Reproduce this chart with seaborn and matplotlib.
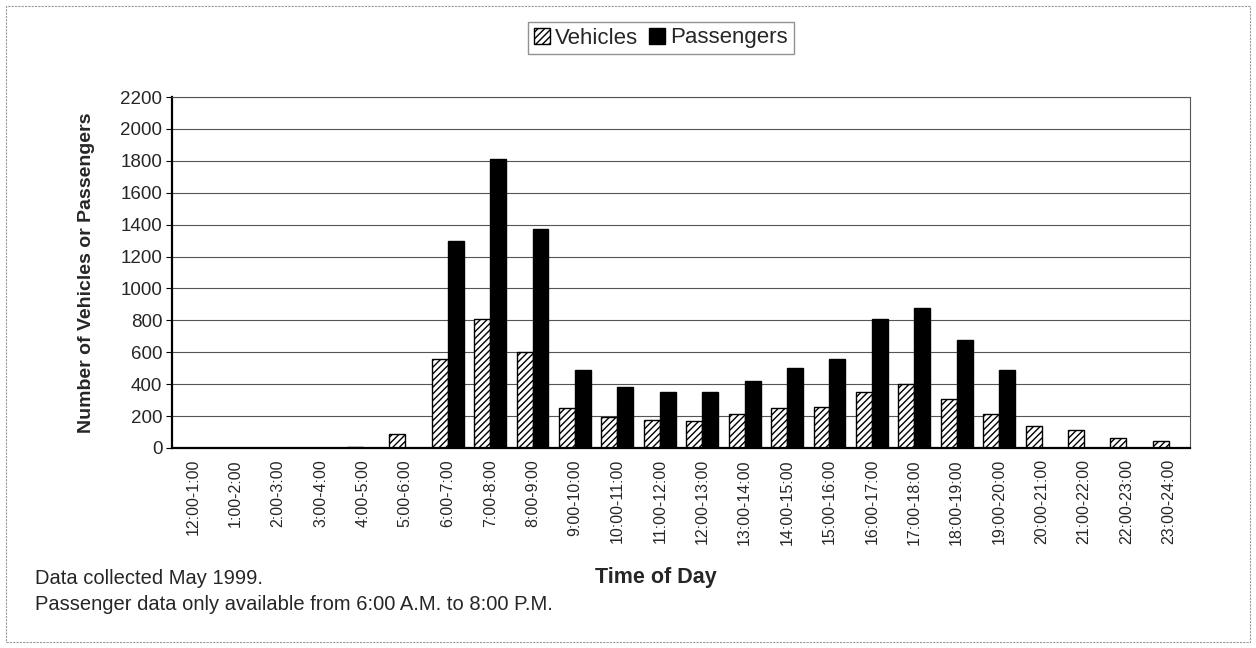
#!/usr/bin/env python3

import pandas as pd
import numpy as np
import matplotlib.pyplot as plt
import seaborn as sns
from matplotlib.patches import Patch, Rectangle

hours = ['12:00-1:00', '1:00-2:00', '2:00-3:00', '3:00-4:00', '4:00-5:00', '5:00-6:00',
         '6:00-7:00', '7:00-8:00', '8:00-9:00', '9:00-10:00', '10:00-11:00', '11:00-12:00',
         '12:00-13:00', '13:00-14:00', '14:00-15:00', '15:00-16:00', '16:00-17:00',
         '17:00-18:00', '18:00-19:00', '19:00-20:00', '20:00-21:00', '21:00-22:00',
         '22:00-23:00', '23:00-24:00']

vehicles = [0, 0, 0, 0, 8, 85, 560, 810, 600, 250, 195, 175,
            172, 213, 250, 257, 348, 400, 306, 210, 135, 115, 65, 45]

passengers = [None, None, None, None, None, None, 1300, 1810, 1370, 490, 385, 350,
              350, 420, 500, 555, 810, 875, 680, 490, None, None, None, None]

y_ticks = list(range(0, 2201, 200))

df = pd.DataFrame({
    'hour': hours * 2,
    'value': vehicles + passengers,
    'series': ['Vehicles'] * len(hours) + ['Passengers'] * len(hours),
})
df['value'] = pd.to_numeric(df['value'])

sns.set_style('white')
plt.rcParams['font.family'] = ['Liberation Sans', 'DejaVu Sans']
plt.rcParams['hatch.linewidth'] = 1.0

fig = plt.figure(figsize=(12.56, 6.48), dpi=100)
ax = fig.add_axes([172 / 1256, 1 - 448 / 648, (1190 - 172) / 1256, (448 - 97) / 648])

sns.barplot(data=df, x='hour', y='value', hue='series', order=hours,
            hue_order=['Vehicles', 'Passengers'], palette=['white', 'black'],
            width=0.75, gap=0, edgecolor='black', linewidth=1.0,
            errorbar=None, legend=False, ax=ax)

# vehicles get the diagonal hatch like the original
for bar in ax.containers[0]:
    bar.set_hatch('/////')

ax.set_ylim(0, 2200)
ax.set_xlim(-0.5, len(hours) - 0.5)
ax.set_yticks(y_ticks)
ax.set_yticklabels([str(t) for t in y_ticks], fontsize=13.5)
ax.set_xticks(range(len(hours)))
ax.set_xticklabels(hours, rotation=90, fontsize=11.5)
ax.set_xticks(np.arange(-0.5, len(hours), 1), minor=True)
ax.tick_params(axis='x', which='major', length=0, pad=8)
ax.tick_params(axis='x', which='minor', length=4, width=0.8, direction='out', color='black')
ax.tick_params(axis='y', length=4, width=0.8, direction='out', color='black', left=True, pad=3)

ax.yaxis.grid(True, color='#555555', linewidth=0.8)
ax.set_axisbelow(True)
for side in ['left', 'bottom']:
    ax.spines[side].set_color('black')
    ax.spines[side].set_linewidth(1.6)
for side in ['top', 'right']:
    ax.spines[side].set_color('#555555')
    ax.spines[side].set_linewidth(0.8)

ax.set_xlabel('')
ax.set_ylabel('Number of Vehicles or Passengers', fontsize=14, fontweight='bold', labelpad=18)

handles = [Patch(facecolor='white', edgecolor='black', hatch='/////', label='Vehicles'),
           Patch(facecolor='black', edgecolor='black', label='Passengers')]
fig.legend(handles=handles, loc='center', bbox_to_anchor=(661 / 1256, 1 - 38 / 648),
           ncol=2, fontsize=16, frameon=True, fancybox=False, edgecolor='#777777',
           handlelength=0.7, handleheight=0.7, handletextpad=0.25, columnspacing=0.5,
           borderpad=0.25)

fig.text(656 / 1256, 1 - 578 / 648, 'Time of Day', fontsize=15.5, fontweight='bold',
         ha='center', va='center')
fig.text(35 / 1256, 1 - 578 / 648, 'Data collected May 1999.', fontsize=14.5,
         ha='left', va='center')
fig.text(35 / 1256, 1 - 604 / 648,
         'Passenger data only available from 6:00 A.M. to 8:00 P.M.', fontsize=14.5,
         ha='left', va='center')

fig.patches.append(Rectangle((6 / 1256, 6 / 648), 1 - 12 / 1256, 1 - 12 / 648,
                             transform=fig.transFigure, fill=False,
                             edgecolor='#999999', linewidth=0.8, linestyle=(0, (2, 1))))

fig.savefig('out.png', dpi=100)
plt.close(fig)
